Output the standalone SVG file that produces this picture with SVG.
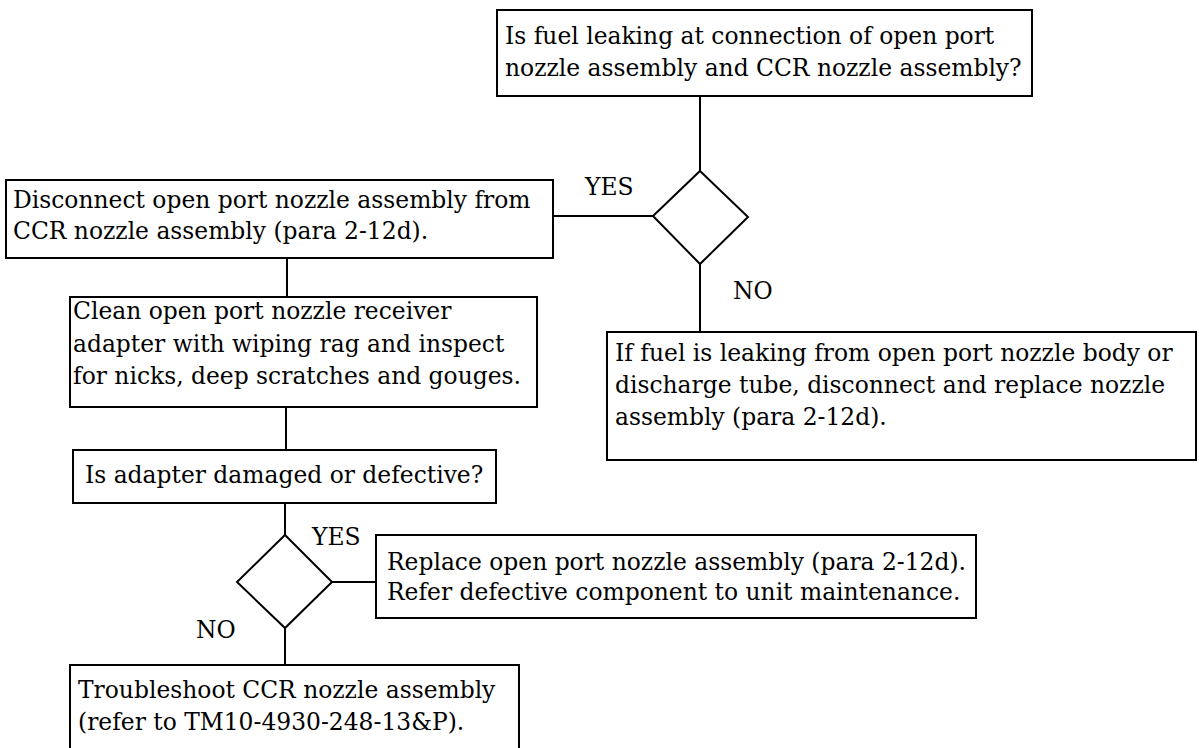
<svg xmlns="http://www.w3.org/2000/svg" width="1199" height="748" viewBox="0 0 1199 748">
<style>
.b{fill:#fff;stroke:#000;stroke-width:2}
.c{fill:none;stroke:#000;stroke-width:2}
text{font-family:"DejaVu Serif","Liberation Serif",serif;font-size:23.4px;fill:#000}
</style>
<rect width="1199" height="748" fill="#fff"/>
<g id="connectors">
<line class="c" x1="700" y1="96" x2="700" y2="171"/>
<line class="c" x1="553" y1="216" x2="653" y2="216"/>
<line class="c" x1="700" y1="264" x2="700" y2="332"/>
<line class="c" x1="287" y1="258" x2="287" y2="297"/>
<line class="c" x1="286" y1="407" x2="286" y2="450"/>
<line class="c" x1="285" y1="503" x2="285" y2="535"/>
<line class="c" x1="332" y1="582" x2="376" y2="582"/>
<line class="c" x1="285" y1="628" x2="285" y2="665"/>
<text x="585" y="195">YES</text>
<text x="733" y="299">NO</text>
<text x="312" y="545">YES</text>
<text x="196" y="638">NO</text>
</g>
<g id="q1">
<rect class="b" x="497" y="10" width="535" height="86"/>
<text x="505" y="44">Is fuel leaking at connection of open port</text>
<text x="505" y="76">nozzle assembly and CCR nozzle assembly?</text>
</g>
<g id="d1">
<polygon class="b" points="700,171 748,217 700,264 653,216"/>
</g>
<g id="disconnect">
<rect class="b" x="6" y="180" width="547" height="78"/>
<text x="13" y="208">Disconnect open port nozzle assembly from</text>
<text x="13" y="239">CCR nozzle assembly (para 2-12d).</text>
</g>
<g id="replace-nozzle">
<rect class="b" x="607" y="332" width="589" height="128"/>
<text x="615" y="361">If fuel is leaking from open port nozzle body or</text>
<text x="615" y="393">discharge tube, disconnect and replace nozzle</text>
<text x="615" y="425">assembly (para 2-12d).</text>
</g>
<g id="clean">
<rect class="b" x="70" y="297" width="467" height="110"/>
<text x="73" y="319">Clean open port nozzle receiver</text>
<text x="73" y="352">adapter with wiping rag and inspect</text>
<text x="73" y="384">for nicks, deep scratches and gouges.</text>
</g>
<g id="q2">
<rect class="b" x="73" y="450" width="423" height="53"/>
<text x="85" y="483">Is adapter damaged or defective?</text>
</g>
<g id="d2">
<polygon class="b" points="285,535 332,582 285,628 237,582"/>
</g>
<g id="replace-open">
<rect class="b" x="376" y="535" width="600" height="83"/>
<text x="387" y="570">Replace open port nozzle assembly (para 2-12d).</text>
<text x="387" y="600">Refer defective component to unit maintenance.</text>
</g>
<g id="troubleshoot">
<path class="c" d="M70,750 V665 H519 V750"/>
<text x="78" y="698">Troubleshoot CCR nozzle assembly</text>
<text x="78" y="730">(refer to TM10-4930-248-13&amp;P).</text>
</g>
</svg>
